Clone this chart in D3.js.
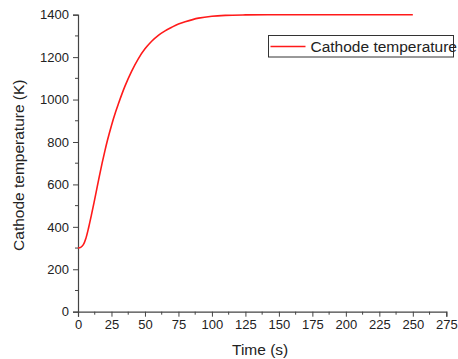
<!DOCTYPE html>
<html>
<head>
<meta charset="utf-8">
<script src="https://cdn.jsdelivr.net/npm/d3@7"></script>
<style>
  body { margin: 0; background: #fff; }
  text { font-family: "Liberation Sans", Arial, sans-serif; fill: #222; }
</style>
</head>
<body>
<svg id="drawing_region"></svg>
<script>
// data
const times = [0, 2, 4, 6, 8, 10, 12, 14, 16, 18, 20, 22, 25, 28, 30, 35, 40, 45, 50, 55,
               60, 65, 70, 75, 80, 90, 100, 110, 125, 150, 175, 200, 225, 250];
const temps = [300, 303, 316, 348, 398, 455, 515, 578, 640, 700, 756, 808, 878, 940, 977, 1062, 1133, 1192, 1239, 1275,
               1303, 1324, 1341, 1356, 1367, 1384, 1393, 1397, 1399, 1400, 1400, 1400, 1400, 1400];
const xTicks = [0, 25, 50, 75, 100, 125, 150, 175, 200, 225, 250, 275];
const yTicks = [0, 200, 400, 600, 800, 1000, 1200, 1400];
const seriesName = "Cathode temperature";

const width = 458, height = 359;

const svg = d3.select("#drawing_region")
    .attr("width", width)
    .attr("height", height);

const x = d3.scaleLinear().domain([0, 275]).range([78, 446.3]);
const y = d3.scaleLinear().domain([0, 1400]).range([311.7, 14.7]);

// minor ticks
const xMinor = d3.range(0, 275.1, 12.5).filter(v => v % 25 !== 0);
const yMinor = d3.range(100, 1400, 200);

const xAxis = svg.append("g")
    .attr("transform", `translate(0, ${y(0)})`)
    .call(d3.axisBottom(x).tickValues(xTicks).tickFormat(d3.format("d")).tickSize(5).tickPadding(3));
xAxis.append("g").selectAll("line")
    .data(xMinor).enter().append("line")
    .attr("x1", d => x(d)).attr("x2", d => x(d))
    .attr("y1", 0).attr("y2", 3)
    .attr("stroke", "#444");

const yAxis = svg.append("g")
    .attr("transform", `translate(${x(0)}, 0)`)
    .call(d3.axisLeft(y).tickValues(yTicks).tickFormat(d3.format("d")).tickSize(5).tickPadding(4));
yAxis.append("g").selectAll("line")
    .data(yMinor).enter().append("line")
    .attr("y1", d => y(d)).attr("y2", d => y(d))
    .attr("x1", 0).attr("x2", -3)
    .attr("stroke", "#444");

svg.selectAll(".domain").attr("stroke", "#444").attr("stroke-width", 1.2);
svg.selectAll(".tick line").attr("stroke", "#444");
svg.selectAll(".tick text")
    .style("font-size", "13px")
    .style("font-family", "Liberation Sans, Arial, sans-serif")
    .attr("fill", "#222");

// axis titles
svg.append("text")
    .attr("x", x(137.5) - 2)
    .attr("y", 355)
    .attr("text-anchor", "middle")
    .style("font-size", "15.5px")
    .text("Time (s)");

svg.append("text")
    .attr("transform", `translate(24, ${y(700) + 2}) rotate(-90)`)
    .attr("text-anchor", "middle")
    .style("font-size", "15.5px")
    .text("Cathode temperature (K)");

// curve
const pts = times.map((t, i) => ({t: t, v: temps[i]}));
const line = d3.line()
    .x(d => x(d.t))
    .y(d => y(d.v))
    .curve(d3.curveCatmullRom.alpha(0.5));

svg.append("path")
    .datum(pts)
    .attr("d", line)
    .attr("fill", "none")
    .attr("stroke", "#ff1a1a")
    .attr("stroke-width", 1.6);

// legend
const legend = svg.append("g").attr("transform", "translate(268.5, 35.5)");
legend.append("rect")
    .attr("width", 185).attr("height", 21.5)
    .attr("fill", "#fff")
    .attr("stroke", "#333");
legend.append("line")
    .attr("x1", 2).attr("x2", 37)
    .attr("y1", 11).attr("y2", 11)
    .attr("stroke", "#ff1a1a").attr("stroke-width", 1.6);
legend.append("text")
    .attr("x", 42).attr("y", 16)
    .style("font-size", "15.5px")
    .text(seriesName);
</script>
</body>
</html>
